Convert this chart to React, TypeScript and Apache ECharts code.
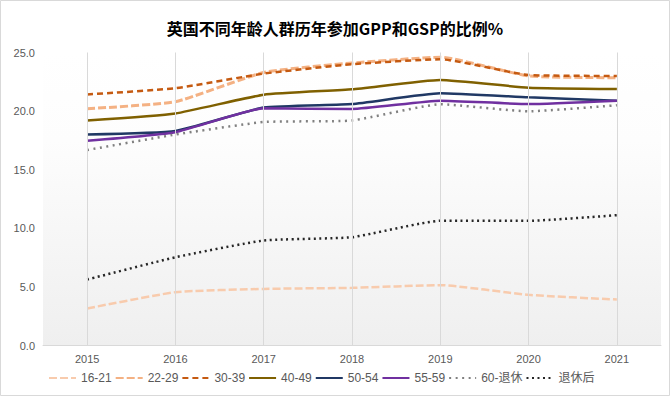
import React, { useEffect, useRef } from "react";
import * as echarts from "echarts";

const titleText = "英国不同年龄人群历年参加GPP和GSP的比例%";
const years = ["2015", "2016", "2017", "2018", "2019", "2020", "2021"];

const s1621 = [3.16, 4.55, 4.83, 4.92, 5.15, 4.32, 3.92];
const s2229 = [20.2, 20.8, 23.3, 24.1, 24.6, 23.0, 22.85];
const s3039 = [21.42, 21.95, 23.2, 24.0, 24.42, 23.08, 23.0];
const s4049 = [19.2, 19.8, 21.4, 21.86, 22.65, 22.0, 21.88];
const s5054 = [18.0, 18.3, 20.3, 20.6, 21.52, 21.18, 20.89];
const s5559 = [17.47, 18.2, 20.24, 20.18, 20.89, 20.6, 20.89];
const s60 = [16.68, 18.0, 19.07, 19.2, 20.58, 19.98, 20.5];
const sRetired = [5.63, 7.53, 8.96, 9.24, 10.64, 10.64, 11.12];

const seriesNames = ["16-21", "22-29", "30-39", "40-49", "50-54", "55-59", "60-退休", "退休后"];
const yTicks = { min: 0, max: 25, interval: 5 };

const FONT = "'Liberation Sans', 'Noto Sans CJK SC', sans-serif";

export default function App() {
  const ref = useRef<HTMLDivElement>(null);
  useEffect(() => {
    document.body.style.margin = "0";
    if (!ref.current) return;
    const chart = echarts.init(ref.current, null, { renderer: "svg" });
    const mk = (
      name: string,
      data: number[],
      color: string,
      type: any,
      width: number
    ) => ({
      name,
      type: "line",
      data,
      symbol: "none",
      smooth: 0.15,
      z: 3,
      lineStyle: { color, width, type },
      itemStyle: { color },
    });
    chart.setOption({
      animation: false,
      backgroundColor: "#ffffff",
      textStyle: { fontFamily: FONT },
      title: {
        text: titleText,
        left: "center",
        top: 15,
        textStyle: { fontSize: 16, fontWeight: "bold", color: "#000000", fontFamily: "'Noto Sans CJK SC', sans-serif" },
      },
      graphic: [
        {
          type: "rect",
          shape: { x: 0.5, y: 0.5, width: 669, height: 395 },
          style: { fill: "none", stroke: "#d9d9d9", lineWidth: 1 },
          silent: true,
        },
      ],
      legend: {
        data: seriesNames,
        left: 43,
        top: 367,
        itemWidth: 27,
        itemHeight: 14,
        itemGap: 3,
        itemStyle: { opacity: 0 },
        textStyle: { fontSize: 12, color: "#595959", fontFamily: FONT },
      },
      grid: {
        left: 43,
        right: 9,
        top: 52.5,
        bottom: 50.5,
        show: true,
        borderWidth: 0,
        backgroundColor: new echarts.graphic.LinearGradient(0, 0, 0, 1, [
          { offset: 0, color: "#ffffff" },
          { offset: 0.3, color: "#fdfdfd" },
          { offset: 1, color: "#efefef" },
        ]),
      },
      xAxis: {
        type: "category",
        data: years,
        boundaryGap: true,
        axisLine: { lineStyle: { color: "#d9d9d9", width: 1 } },
        axisTick: { show: false },
        axisLabel: { color: "#595959", fontSize: 11, margin: 8 },
        splitLine: { show: false },
      },
      yAxis: {
        type: "value",
        min: yTicks.min,
        max: yTicks.max,
        interval: yTicks.interval,
        axisLine: { show: false },
        axisTick: { show: false },
        splitLine: { show: false },
        axisLabel: {
          color: "#595959",
          fontSize: 11,
          margin: 8,
          formatter: (v: number) => v.toFixed(1),
        },
      },
      series: [
        {
          name: "__grid",
          type: "line",
          data: [],
          z: 1,
          silent: true,
          markLine: {
            silent: true,
            symbol: "none",
            label: { show: false },
            lineStyle: { color: "#d9d9d9", width: 1, type: "solid" },
            data: years.map((y) => ({ xAxis: y })),
          },
        },
        mk(seriesNames[0], s1621, "#F8CBAD", [8, 3], 2.5),
        mk(seriesNames[1], s2229, "#F4B183", [8, 3], 3),
        mk(seriesNames[2], s3039, "#C55A11", [6, 4], 2.5),
        mk(seriesNames[3], s4049, "#7F6000", "solid", 2.5),
        mk(seriesNames[4], s5054, "#203864", "solid", 2.5),
        mk(seriesNames[5], s5559, "#7030A0", "solid", 2.5),
        mk(seriesNames[6], s60, "#808080", [2, 4.5], 2.5),
        mk(seriesNames[7], sRetired, "#262626", [2, 3.5], 2.5),
      ],
    });
    return () => chart.dispose();
  }, []);
  return <div ref={ref} style={{ width: 670, height: 396 }} />;
}
